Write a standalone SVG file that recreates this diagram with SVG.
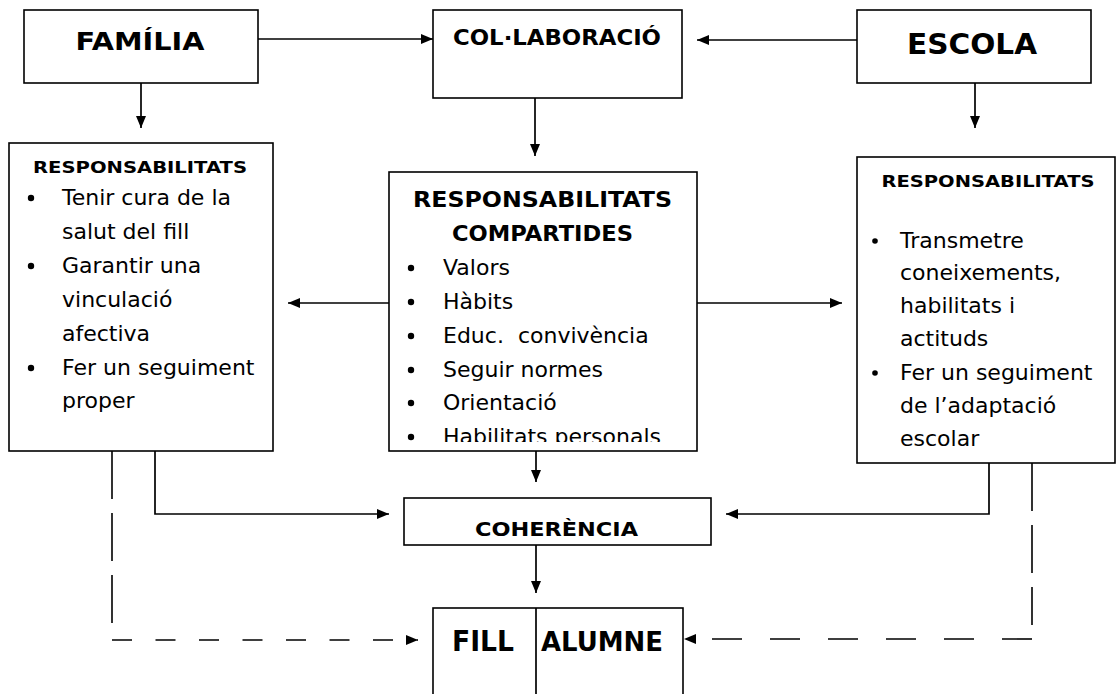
<svg xmlns="http://www.w3.org/2000/svg" width="1117" height="694" viewBox="0 0 1117 694">
<style>
.box{fill:#fff;stroke:#000;stroke-width:1.6}
.ln{fill:none;stroke:#000;stroke-width:1.7}
.dv{fill:none;stroke:#000;stroke-width:1.6;stroke-dasharray:48 14}
.dh{fill:none;stroke:#000;stroke-width:1.6}
.t{font-family:"DejaVu Sans",sans-serif;font-size:22px;fill:#000}
.b{font-family:"DejaVu Sans",sans-serif;font-weight:bold;fill:#000;text-anchor:middle}
.bul{fill:#000}
</style>
<defs>
<marker id="ah" markerWidth="12" markerHeight="10" refX="12" refY="5" orient="auto" markerUnits="userSpaceOnUse">
<path d="M0,0 L12,5 L0,10 Z" fill="#000"/>
</marker>
<clipPath id="clipMid"><rect x="389" y="172" width="308" height="270"/></clipPath>
</defs>
<rect width="1117" height="694" fill="#fff"/>

<g id="connectors">
<line class="ln" x1="258" y1="39" x2="433" y2="39" marker-end="url(#ah)"/>
<line class="ln" x1="857" y1="40" x2="697" y2="40" marker-end="url(#ah)"/>
<line class="ln" x1="141" y1="83" x2="141" y2="128" marker-end="url(#ah)"/>
<line class="ln" x1="535" y1="98" x2="535" y2="156" marker-end="url(#ah)"/>
<line class="ln" x1="975" y1="83" x2="975" y2="128" marker-end="url(#ah)"/>
<line class="ln" x1="389" y1="303" x2="288" y2="303" marker-end="url(#ah)"/>
<line class="ln" x1="697" y1="303" x2="842" y2="303" marker-end="url(#ah)"/>
<line class="ln" x1="536" y1="451" x2="536" y2="482" marker-end="url(#ah)"/>
<polyline class="ln" points="155,451 155,514 389,514" marker-end="url(#ah)"/>
<polyline class="ln" points="989,463 989,514 726,514" marker-end="url(#ah)"/>
<line class="ln" x1="536" y1="545" x2="536" y2="593" marker-end="url(#ah)"/>
<line class="dv" x1="112" y1="451" x2="112" y2="625"/>
<line class="dh" x1="112" y1="640" x2="418" y2="640" stroke-dasharray="20 23.5" marker-end="url(#ah)"/>
<line class="dv" x1="1032" y1="463" x2="1032" y2="625"/>
<line class="dh" x1="1032" y1="639" x2="684" y2="639" stroke-dasharray="30 28" marker-end="url(#ah)"/>
</g>

<g id="familia">
<rect class="box" x="24" y="10" width="234" height="73"/>
<text class="b" x="140" y="50" font-size="25" textLength="129" lengthAdjust="spacingAndGlyphs">FAMÍLIA</text>
</g>

<g id="collaboracio">
<rect class="box" x="433" y="10" width="249" height="88"/>
<text class="b" x="557" y="45" font-size="21" textLength="208" lengthAdjust="spacingAndGlyphs">COL·LABORACIÓ</text>
</g>

<g id="escola">
<rect class="box" x="857" y="10" width="234" height="73"/>
<text class="b" x="972" y="54" font-size="28" textLength="130" lengthAdjust="spacingAndGlyphs">ESCOLA</text>
</g>

<g id="resp-familia">
<rect class="box" x="9" y="143" width="264" height="308"/>
<text class="b" x="140" y="173" font-size="16" textLength="214" lengthAdjust="spacingAndGlyphs">RESPONSABILITATS</text>
<circle class="bul" cx="31" cy="198" r="3.2"/>
<text class="t" x="62" y="205">Tenir cura de la</text>
<text class="t" x="62" y="239">salut del fill</text>
<circle class="bul" cx="31" cy="266" r="3.2"/>
<text class="t" x="62" y="273">Garantir una</text>
<text class="t" x="62" y="307">vinculació</text>
<text class="t" x="62" y="341">afectiva</text>
<circle class="bul" cx="31" cy="368" r="3.2"/>
<text class="t" x="62" y="375">Fer un seguiment</text>
<text class="t" x="62" y="408">proper</text>
</g>

<g id="resp-compartides">
<rect class="box" x="389" y="172" width="308" height="279"/>
<text class="b" x="542.5" y="207" font-size="21" textLength="259" lengthAdjust="spacingAndGlyphs">RESPONSABILITATS</text>
<text class="b" x="542.5" y="241" font-size="21" textLength="181" lengthAdjust="spacingAndGlyphs">COMPARTIDES</text>
<g clip-path="url(#clipMid)">
<circle class="bul" cx="411" cy="268" r="3.2"/>
<text class="t" x="443" y="275">Valors</text>
<circle class="bul" cx="411" cy="302" r="3.2"/>
<text class="t" x="443" y="309">Hàbits</text>
<circle class="bul" cx="411" cy="336" r="3.2"/>
<text class="t" x="443" y="343" xml:space="preserve">Educ.  convivència</text>
<circle class="bul" cx="411" cy="370" r="3.2"/>
<text class="t" x="443" y="377">Seguir normes</text>
<circle class="bul" cx="411" cy="403" r="3.2"/>
<text class="t" x="443" y="410">Orientació</text>
<circle class="bul" cx="411" cy="437" r="3.2"/>
<text class="t" x="443" y="444">Habilitats personals</text>
</g>
</g>

<g id="resp-escola">
<rect class="box" x="857" y="157" width="258" height="306"/>
<text class="b" x="988" y="187" font-size="16" textLength="213" lengthAdjust="spacingAndGlyphs">RESPONSABILITATS</text>
<circle class="bul" cx="875" cy="241" r="2.8"/>
<text class="t" x="900" y="248">Transmetre</text>
<text class="t" x="900" y="280">coneixements,</text>
<text class="t" x="900" y="313">habilitats i</text>
<text class="t" x="900" y="346">actituds</text>
<circle class="bul" cx="875" cy="373" r="2.8"/>
<text class="t" x="900" y="380">Fer un seguiment</text>
<text class="t" x="900" y="413">de l’adaptació</text>
<text class="t" x="900" y="446">escolar</text>
</g>

<g id="coherencia">
<rect class="box" x="404" y="498" width="307" height="47"/>
<text class="b" x="556.5" y="536" font-size="20" textLength="163" lengthAdjust="spacingAndGlyphs">COHERÈNCIA</text>
</g>

<g id="fill-alumne">
<rect class="box" x="433" y="608" width="250" height="100"/>
<line class="ln" x1="536" y1="608" x2="536" y2="694"/>
<text class="b" x="483" y="651" font-size="28" textLength="62" lengthAdjust="spacingAndGlyphs">FILL</text>
<text class="b" x="602" y="651" font-size="27" textLength="122" lengthAdjust="spacingAndGlyphs">ALUMNE</text>
</g>
</svg>
